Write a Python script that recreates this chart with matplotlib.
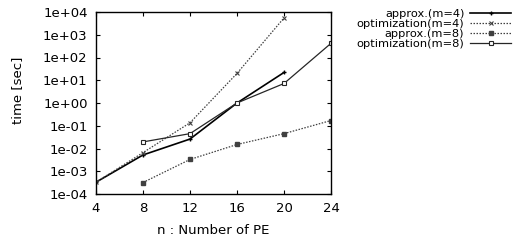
import numpy as np
import matplotlib.pyplot as plt
from matplotlib.ticker import FixedLocator, FuncFormatter, NullLocator

# --- DATA ---
n_m4 = [4, 8, 12, 16, 20]
approx_m4 = [3.3e-4, 5.2e-3, 2.6e-2, 1.0, 22.0]
optim_m4 = [3.3e-4, 6.6e-3, 0.135, 20.0, 5500.0]

n_m8 = [8, 12, 16, 20, 24]
approx_m8 = [3.2e-4, 3.3e-3, 1.5e-2, 4.5e-2, 0.17]
optim_m8 = [1.95e-2, 4.5e-2, 1.0, 7.2, 420.0]

x_ticks = [4, 8, 12, 16, 20, 24]
y_ticks = [1e-4, 1e-3, 1e-2, 1e-1, 1e0, 1e1, 1e2, 1e3, 1e4]

# --- PLOT ---
plt.rcParams['font.family'] = 'DejaVu Sans'
fs = 9.5

fig = plt.figure(figsize=(5.13, 2.44), dpi=100)
ax = fig.add_axes([96 / 513, 1 - 194 / 244, 235 / 513, 182 / 244])

dot = (0, (1.2, 1.2))
ax.plot(n_m4, approx_m4, color="black", linestyle="-", linewidth=1.2,
        marker="+", markersize=3, label="approx.(m=4)")
ax.plot(n_m4, optim_m4, color="0.25", linestyle=dot, linewidth=0.9,
        marker="x", markersize=3.5, markeredgewidth=0.8, label="optimization(m=4)")
ax.plot(n_m8, approx_m8, color="0.25", linestyle=dot, linewidth=0.9,
        marker="s", markersize=2.5, label="approx.(m=8)")
ax.plot(n_m8, optim_m8, color="0.15", linestyle="-", linewidth=0.9,
        marker="s", markersize=3.5, markerfacecolor="white", markeredgewidth=0.8,
        label="optimization(m=8)")

ax.set_yscale("log")
ax.set_xlim(4, 24)
ax.set_ylim(1e-4, 1e4)
ax.xaxis.set_major_locator(FixedLocator(x_ticks))
ax.yaxis.set_major_locator(FixedLocator(y_ticks))
ax.yaxis.set_minor_locator(NullLocator())
ax.yaxis.set_major_formatter(FuncFormatter(lambda v, p: f"{v:.0e}"))
ax.tick_params(direction="in", top=True, right=True, length=3, width=0.8,
               labelsize=fs, pad=6)
for s in ax.spines.values():
    s.set_linewidth(1.0)

ax.set_xlabel("n : Number of PE", fontsize=fs, labelpad=6)
ax.set_ylabel("time [sec]", fontsize=fs)
ax.yaxis.set_label_coords(-0.305, 0.57)

leg = fig.legend(loc="upper right", bbox_to_anchor=(511 / 513, 1 - 9 / 244),
                 frameon=False, markerfirst=False, fontsize=8.2,
                 handlelength=3.6, handletextpad=0.5, labelspacing=0.0,
                 borderpad=0, borderaxespad=0)

fig.savefig("out.png", dpi=100)
